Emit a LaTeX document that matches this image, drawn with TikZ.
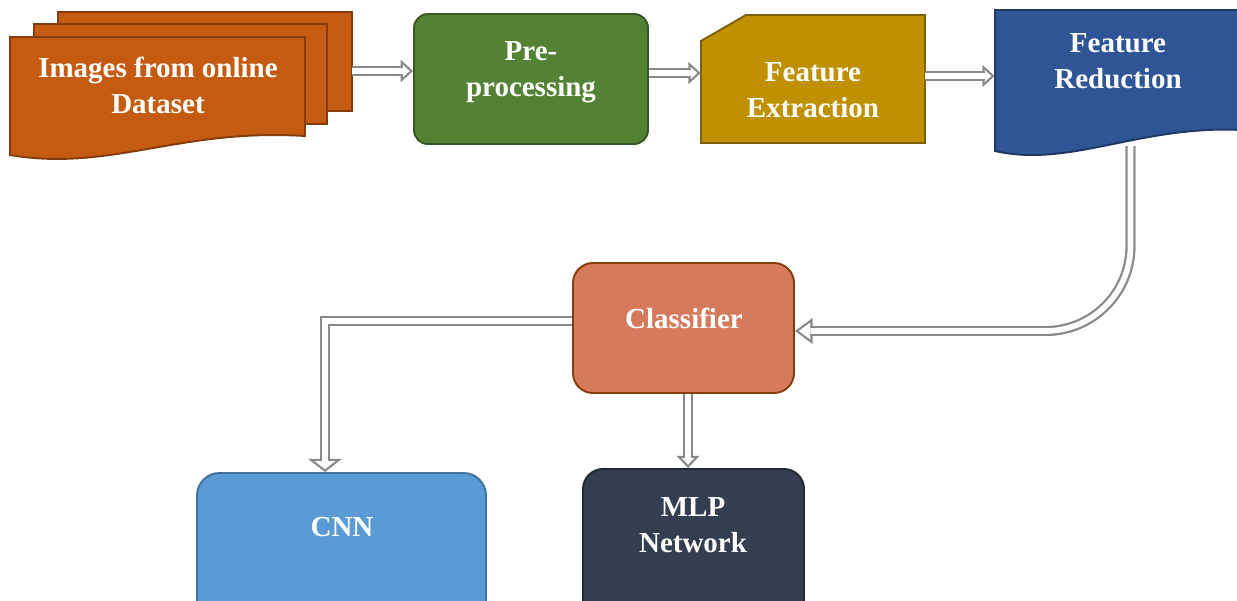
\documentclass[tikz,border=0pt]{standalone}
\usepackage{fontspec}
\setmainfont{Liberation Serif}
\usetikzlibrary{arrows.meta,fit}
\definecolor{corange}{HTML}{C55A11}
\definecolor{corangeb}{HTML}{843C0C}
\definecolor{cgreen}{HTML}{548235}
\definecolor{cgreenb}{HTML}{385723}
\definecolor{cgold}{HTML}{BF9000}
\definecolor{cgoldb}{HTML}{7F6000}
\definecolor{cblue}{HTML}{2F5597}
\definecolor{cblueb}{HTML}{1F3864}
\definecolor{csalmon}{HTML}{D57A5C}
\definecolor{csalmonb}{HTML}{843C0C}
\definecolor{clight}{HTML}{5B9BD5}
\definecolor{clightb}{HTML}{41719C}
\definecolor{cdark}{HTML}{333F50}
\definecolor{cdarkb}{HTML}{222A35}
\definecolor{arrowgray}{HTML}{8A8A8A}
\tikzset{
  shp/.style={line width=1.1pt},
  fitbox/.style={inner sep=0pt, line width=1.1pt},
  txt/.style={text=white, align=center, font=\fontsize{16.5}{20.5}\selectfont\bfseries},
  conn/.style n args={2}{draw=arrowgray, line width=1.2pt, double=white, double distance=3.2pt,
    -{Triangle[open, fill=white, line width=1.2pt, width=#1, length=#2]},
    postaction={draw=arrowgray, line width=1.2pt, double=white, double distance=3.2pt, -, shorten >=#2-1.3pt}}
}
\begin{document}
\begin{tikzpicture}[x=0.02cm, y=-0.02cm]
\useasboundingbox (0,0) rectangle (1237,600);
\clip (0,0) rectangle (1237,600);

% stacked documents
\draw[shp, fill=corange, draw=corangeb] (58,12) rectangle (352,111);
\draw[shp, fill=corange, draw=corangeb] (34,24) rectangle (327,124);
\draw[shp, fill=corange, draw=corangeb] (10,37) -- (305,37) -- (305,136)
  .. controls (180,128) and (110,172) .. (10,155) -- cycle;
\node[inner sep=0pt, fit={(10,12) (352,156)}] (img) {};

% pre-processing
\node[fitbox, fill=cgreen, draw=cgreenb, rounded corners=0.28cm, fit={(414,14) (648,144)}] (pre) {};

% feature extraction (snipped corner)
\draw[shp, fill=cgold, draw=cgoldb] (701,41) -- (746,15) -- (925,15) -- (925,143) -- (701,143) -- cycle;
\node[inner sep=0pt, fit={(701,15) (925,143)}] (fe) {};

% feature reduction (document)
\draw[shp, fill=cblue, draw=cblueb] (995,10) -- (1241,10) -- (1241,130)
  .. controls (1140,125) and (1070,168) .. (995,151) -- cycle;
\node[inner sep=0pt, fit={(995,10) (1241,158)}] (fr) {};
\coordinate (frout) at (1130.5,146);

% classifier
\node[fitbox, fill=csalmon, draw=csalmonb, rounded corners=0.4cm, fit={(573,263) (794,393)}] (cls) {};
% CNN
\node[fitbox, fill=clight, draw=clightb, rounded corners=0.45cm, fit={(197,473) (486,625)}] (cnn) {};
% MLP
\node[fitbox, fill=cdark, draw=cdarkb, rounded corners=0.4cm, fit={(583,469) (804,625)}] (mlp) {};

% texts
\node[txt] (t1) at (158,85) {Images from online\\Dataset};
\node[txt] (t2) at (531,72) {Pre-\\processing};
\node[txt] (t3) at (813,90) {Feature\\Extraction};
\node[txt] (t4) at (1118,61) {Feature\\Reduction};
\node[txt] (t5) at (684,318) {Classifier};
\node[txt] (t6) at (342,527) {CNN};
\node[txt] (t7) at (693,525) {MLP\\Network};

% connectors
\draw[conn={12.5pt}{7pt}] (img.east |- 0,71) -- (pre.west |- 0,71);
\draw[conn={12.5pt}{7pt}] (pre.east |- 0,73) -- (fe.west |- 0,73);
\draw[conn={12.5pt}{7pt}] (fe.east |- 0,76) -- (fr.west |- 0,76);
\draw[conn={14.5pt}{10pt}, rounded corners=1.7cm] (frout) -- (frout |- 0,331) -- (cls.east |- 0,331);
\draw[conn={19pt}{7.5pt}] (cls.west |- 0,321) -| (cnn.north -| 325,0);
\draw[conn={13pt}{7pt}] (cls.south -| 688,0) -- (mlp.north -| 688,0);
\end{tikzpicture}
\end{document}
